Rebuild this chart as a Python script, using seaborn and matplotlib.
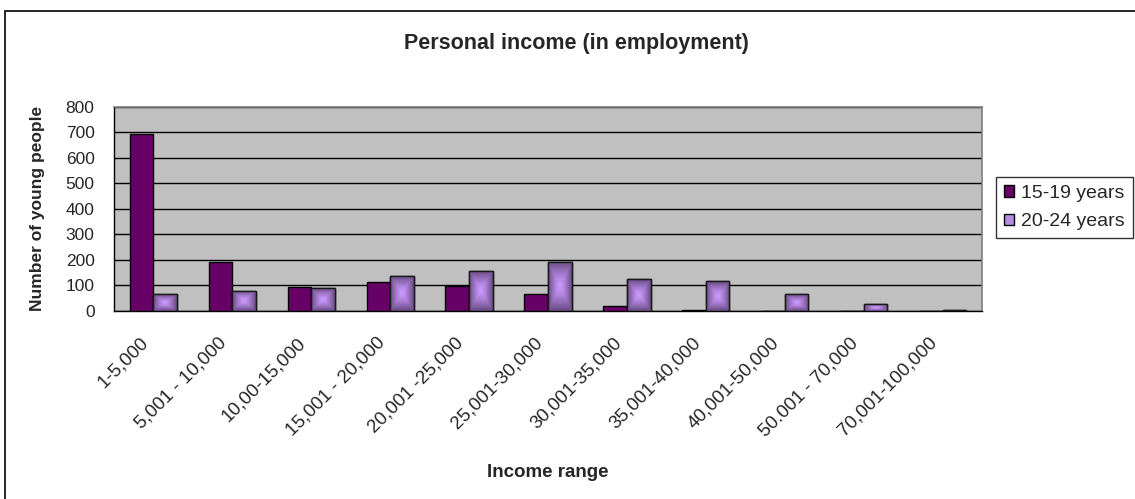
import numpy as np
import pandas as pd
import seaborn as sns
import matplotlib
matplotlib.use("Agg")
import matplotlib.pyplot as plt
from matplotlib.patches import Rectangle, Patch
from matplotlib.transforms import ScaledTranslation

categories = ["1-5,000", "5,001 - 10,000", "10,00-15,000", "15,001 - 20,000",
              "20,001 -25,000", "25,001-30,000", "30,001-35,000", "35,001-40,000",
              "40,001-50,000", "50.001 - 70,000", "70,001-100,000"]
teen = [695, 192, 95, 114, 99, 65, 18, 5, 0, 0, 0]
young = [65, 80, 90, 138, 157, 192, 125, 116, 66, 27, 4]
series = ["15-19 years", "20-24 years"]
yticks = [0, 100, 200, 300, 400, 500, 600, 700, 800]

df = pd.DataFrame({
    "Income range": categories * 2,
    "Count": teen + young,
    "Age": [series[0]] * len(categories) + [series[1]] * len(categories),
})

sns.set_style("white")
plt.rcParams["font.family"] = ["Liberation Sans", "DejaVu Sans"]

dark_col = "#660066"
light_col = "#B38CE0"

W, H = 1135, 499
fig = plt.figure(figsize=(11.35, 4.99), dpi=100)
ax_l, ax_r, ax_t, ax_b = 114, 982, 106.7, 311
ax = fig.add_axes([ax_l / W, 1 - ax_b / H, (ax_r - ax_l) / W, (ax_b - ax_t) / H])
ax.set_facecolor("#C0C0C0")

sns.barplot(data=df, x="Income range", y="Count", hue="Age",
            palette=[dark_col, light_col], width=0.6, dodge=True,
            edgecolor="black", linewidth=1, saturation=1, ax=ax,
            legend=False, zorder=3)

# gradient fill for the light series
light = np.array([0.80, 0.60, 1.00])
darkc = np.array([0.40, 0.29, 0.50])
n = 60
u = np.linspace(-1, 1, n)
U, V = np.meshgrid(u, u)
D = np.maximum(np.abs(U), np.abs(V)) ** 1.3
img = light[None, None, :] * (1 - D[..., None]) + darkc[None, None, :] * D[..., None]
for p in ax.containers[1]:
    x0, y0, w, h = p.get_x(), p.get_y(), p.get_width(), p.get_height()
    if h <= 0:
        continue
    im = ax.imshow(img, extent=(x0, x0 + w, y0, y0 + h), aspect="auto",
                   zorder=3.5, interpolation="bilinear")
    im.set_clip_path(p)
    ax.add_patch(Rectangle((x0, y0), w, h, fill=False, edgecolor="#1a1a1a",
                           linewidth=1, zorder=4))

ax.set_xlim(-0.5, len(categories) - 0.5)
ax.set_ylim(0, 800)
ax.set_yticks(yticks)
ax.set_yticklabels([str(v) for v in yticks], fontsize=12.5)
ax.yaxis.grid(True, color="black", linewidth=1)
ax.set_axisbelow(True)
for g in ax.get_ygridlines():
    g.set_zorder(1)

ax.set_xticks(range(len(categories)))
ax.set_xticklabels(categories, rotation=45, ha="right", va="center",
                   rotation_mode="anchor", fontsize=13.5)
ax.tick_params(axis="x", which="major", length=0, pad=21)
shift = ScaledTranslation(-8 / 100, 0, fig.dpi_scale_trans)
for lbl in ax.get_xticklabels():
    lbl.set_transform(lbl.get_transform() + shift)
ax.set_xticks(np.arange(-0.5, len(categories)), minor=True)
ax.tick_params(axis="x", which="minor", length=6, width=1, color="black", direction="out")
ax.tick_params(axis="y", length=6, width=1, color="black", direction="out", pad=8)

for s in ["left", "bottom"]:
    ax.spines[s].set_color("black")
    ax.spines[s].set_linewidth(1)
for s in ["top", "right"]:
    ax.spines[s].set_color("#808080")
    ax.spines[s].set_linewidth(1.2)

ax.set_xlabel("Income range", fontsize=13.5, fontweight="bold")
ax.xaxis.set_label_coords(0.5, (ax_b - 464) / (ax_b - ax_t))
ax.set_ylabel("Number of young people", fontsize=12.5, fontweight="bold")
ax.yaxis.set_label_coords((45 - ax_l) / (ax_r - ax_l), 0.5)

fig.text(576 / W, 1 - 43 / H, "Personal income (in employment)", ha="center",
         va="center", fontsize=15.5, fontweight="bold")

handles = [Patch(facecolor=dark_col, edgecolor="black", linewidth=1),
           Patch(facecolor=light_col, edgecolor="black", linewidth=1)]
leg = fig.legend(handles, series, loc="upper left",
                 bbox_to_anchor=(996 / W, 1 - 177 / H),
                 fontsize=14, frameon=True, fancybox=False, edgecolor="black",
                 handlelength=0.55, handleheight=0.55, handletextpad=0.35,
                 borderpad=0.4, labelspacing=0.6, borderaxespad=0)
leg.get_frame().set_linewidth(1)

fig.patches.append(Rectangle((5 / W, -0.01), 0.999, (H - 11) / H + 0.01,
                             transform=fig.transFigure, fill=False,
                             edgecolor="black", linewidth=1.2))

fig.savefig("out.png", dpi=100, facecolor="white")
